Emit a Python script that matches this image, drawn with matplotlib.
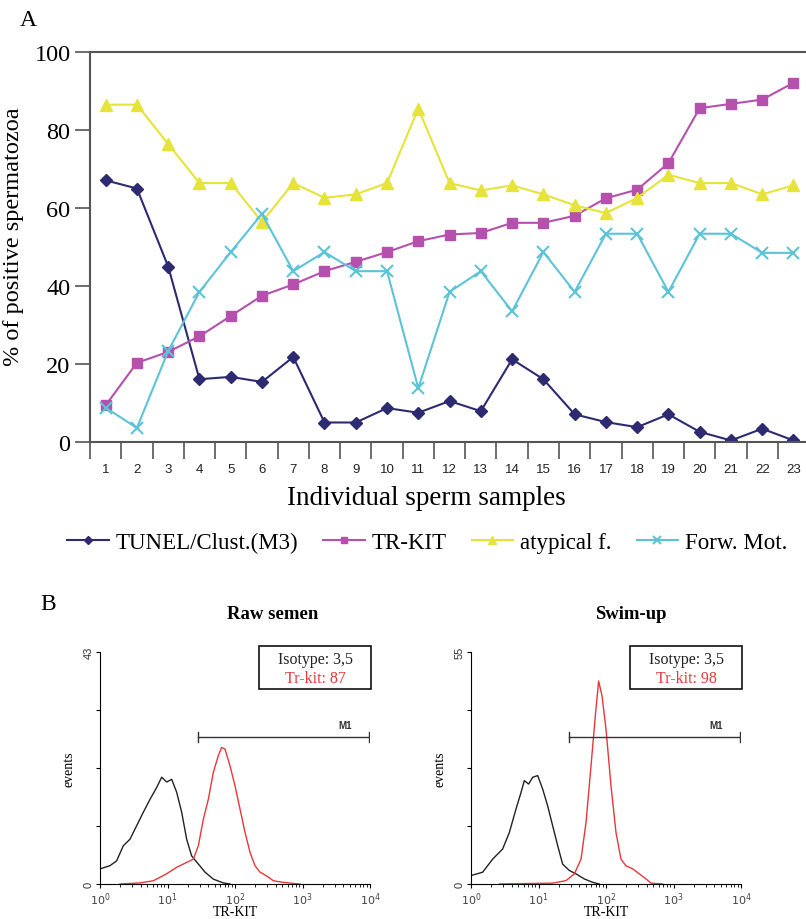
import numpy as np
import matplotlib
matplotlib.use("Agg")
import matplotlib.pyplot as plt

# panel A data
samples = list(range(1, 24))
tunel = [67.1, 65.0, 45.0, 16.1, 16.7, 15.4, 21.8, 5.0, 5.0, 8.7, 7.5, 10.5,
         7.9, 21.2, 16.1, 7.1, 5.1, 3.8, 7.1, 2.6, 0.4, 3.4, 0.4]
trkit = [9.4, 20.3, 23.1, 27.1, 32.3, 37.5, 40.4, 43.8, 46.2, 48.7, 51.5, 53.2,
         53.6, 56.2, 56.2, 58.0, 62.5, 64.7, 71.5, 85.6, 86.7, 87.8, 92.1]
atypical = [86.5, 86.5, 76.4, 66.4, 66.4, 56.4, 66.4, 62.6, 63.5, 66.4, 85.5, 66.4,
            64.5, 65.8, 63.5, 60.7, 58.7, 62.6, 68.5, 66.4, 66.4, 63.5, 65.8]
forwmot = [8.8, 3.6, 23.3, 38.5, 48.7, 58.5, 43.8, 48.7, 43.8, 43.8, 13.8, 38.5,
           43.8, 33.5, 48.7, 38.5, 53.4, 53.4, 38.5, 53.4, 53.4, 48.5, 48.5]

# panel B data (log10 fluorescence, events)
raw_iso_x = [0.0, 0.148, 0.247, 0.346, 0.444, 0.543, 0.642, 0.741, 0.840, 0.914, 0.988,
             1.062, 1.136, 1.21, 1.284, 1.358, 1.457, 1.556, 1.679, 1.827, 1.926]
raw_iso_y = [2.8, 3.4, 4.3, 7.1, 8.3, 10.8, 13.3, 15.7, 17.9, 19.8, 18.9,
             19.4, 17.0, 13.3, 8.3, 5.2, 3.7, 2.2, 0.9, 0.2, 0.0]
raw_kit_x = [0.296, 0.593, 0.79, 0.988, 1.136, 1.284, 1.383, 1.457, 1.531, 1.605, 1.679,
             1.753, 1.802, 1.852, 1.926, 2.0, 2.074, 2.148, 2.222, 2.296, 2.37,
             2.469, 2.568, 2.716, 2.864, 2.963]
raw_kit_y = [0.0, 0.2, 0.6, 1.9, 3.1, 4.0, 4.6, 7.1, 12.0, 15.7, 20.7,
             23.8, 25.3, 25.0, 21.9, 18.2, 13.9, 9.6, 5.9, 3.4, 2.2,
             1.5, 0.6, 0.3, 0.1, 0.0]
swim_iso_x = [0.0, 0.173, 0.321, 0.469, 0.568, 0.667, 0.741, 0.79, 0.854, 0.914, 0.988,
              1.062, 1.136, 1.21, 1.284, 1.358, 1.457, 1.556, 1.679, 1.802, 1.901]
swim_iso_y = [2.0, 2.8, 5.9, 8.3, 12.2, 17.8, 21.7, 24.5, 23.7, 25.3, 25.7,
              22.5, 18.5, 13.8, 9.1, 4.7, 3.2, 2.4, 1.2, 0.4, 0.0]
swim_kit_x = [0.42, 1.21, 1.407, 1.531, 1.63, 1.704, 1.778, 1.842, 1.891, 1.941, 2.0,
              2.074, 2.148, 2.222, 2.296, 2.395, 2.494, 2.593, 2.667, 2.84]
swim_kit_y = [0.0, 0.2, 0.8, 2.4, 5.9, 14.6, 28.0, 39.9, 48.1, 44.6, 36.7,
              23.3, 12.2, 5.9, 4.3, 3.6, 2.4, 1.2, 0.2, 0.0]

serif = "Liberation Serif"
W, H = 806, 920
fig = plt.figure(figsize=(W / 100, H / 100), dpi=100)

def box(l, t, r, b):
    return [l / W, (H - b) / H, (r - l) / W, (b - t) / H]

# ---------- panel A
ax = fig.add_axes(box(90, 53, 806, 443))
c_tunel, c_kit, c_aty, c_mot = "#2e2a72", "#b551ad", "#e6e33a", "#5cc4d6"
ax.plot(samples, tunel, color=c_tunel, marker="D", ms=6, lw=1.5, label="TUNEL/Clust.(M3)")
ax.plot(samples, trkit, color=c_kit, marker="s", ms=6.5, lw=1.5, label="TR-KIT")
ax.plot(samples, atypical, color=c_aty, marker="^", ms=8, lw=1.5, label="atypical f.")
ax.plot(samples, forwmot, color=c_mot, marker="x", ms=9, mew=1.5, lw=1.5, label="Forw. Mot.")
ax.set_xlim(0.5, 23.4)
ax.set_ylim(0, 100)
ax.set_yticks([0, 20, 40, 60, 80, 100])
ax.set_yticklabels(["0", "20", "40", "60", "80", "100"], fontfamily=serif, fontsize=17.5)
ax.tick_params(axis="y", length=11, width=1.2, color="#555555", pad=3)
ax.set_xticks(np.arange(0.5, 23.5, 1.0))
ax.set_xticklabels([])
ax.tick_params(axis="x", length=12, width=1.2, color="#555555")
for s in samples:
    ax.text(s, -6.8, str(s), ha="center", va="center", fontsize=9.5,
            fontfamily="Liberation Sans", color="#222222")
for sp in ["left", "bottom", "top"]:
    ax.spines[sp].set_color("#555555")
    ax.spines[sp].set_linewidth(1.5)
ax.spines["right"].set_visible(False)
ax.set_ylabel("% of positive spermatozoa", fontfamily=serif, fontsize=17.5, labelpad=6)
ax.yaxis.set_label_coords(-0.092, 0.53)
ax.text(0.47, -0.142, "Individual sperm samples", transform=ax.transAxes, ha="center",
        va="center", fontfamily=serif, fontsize=19.5)
fig.text(20 / W, 1 - 20 / H, "A", fontfamily=serif, fontsize=17, va="center")
fig.legend(loc="center", bbox_to_anchor=(0.53, 1 - 543 / H), ncol=4, frameon=False,
           prop={"family": serif, "size": 16.5}, handlelength=1.8, columnspacing=1.1,
           handletextpad=0.3, markerscale=0.7)

# ---------- panel B
fig.text(40 / W, 1 - 605 / H, "B", fontfamily=serif, fontsize=17, va="center")

def flow(l, r, title, tx, ymax, iso_x, iso_y, kit_x, kit_y, kitval):
    a = fig.add_axes(box(l, 653, r, 885))
    a.plot(10 ** np.array(iso_x), iso_y, color="#222222", lw=1.0)
    a.plot(10 ** np.array(kit_x), kit_y, color="#e8363a", lw=1.0)
    a.set_xscale("log")
    a.set_xlim(1, 1e4)
    a.set_ylim(0, ymax)
    a.set_yticks(np.linspace(0, ymax, 5))
    a.set_yticklabels(["0", "", "", "", str(ymax)], rotation=90, va="center",
                      fontfamily="Liberation Sans", fontsize=8, color="#333333")
    a.set_xticks([1, 10, 100, 1000, 10000])
    a.set_xticklabels(["$10^0$", "$10^1$", "$10^2$", "$10^3$", "$10^4$"], fontsize=8,
                      color="#444444")
    a.tick_params(axis="both", length=3, width=0.8, pad=1.5)
    a.tick_params(axis="x", which="minor", length=1.8, width=0.6)
    for sp in ["top", "right"]:
        a.spines[sp].set_visible(False)
    a.spines["left"].set_linewidth(0.8)
    a.spines["bottom"].set_linewidth(0.8)
    a.set_ylabel("events", fontfamily=serif, fontsize=10, labelpad=6)
    a.set_xlabel("TR-KIT", fontfamily=serif, fontsize=10, labelpad=-1)
    fig.text(tx / W, 1 - 615 / H, title, fontfamily=serif, fontsize=13.5, fontweight="bold",
             ha="center", va="center")
    # M1 gate
    gy = 0.634 * ymax
    a.plot([28.3, 9660], [gy, gy], color="#333333", lw=1.0)
    a.plot([28.3, 28.3], [gy - 0.02 * ymax, gy + 0.02 * ymax], color="#333333", lw=1.0)
    a.plot([9660, 9660], [gy - 0.02 * ymax, gy + 0.02 * ymax], color="#333333", lw=1.0)
    a.text(10 ** 3.63, gy + 0.03 * ymax, "M1", fontsize=7, fontweight="bold",
           fontfamily="Liberation Sans", ha="center", va="bottom", color="#333333")
    # value box
    a.add_patch(plt.Rectangle((0.59, 0.84), 0.415, 0.186, transform=a.transAxes,
                              fill=False, lw=1.2, ec="#111111", clip_on=False))
    a.text(0.797, 0.97, "Isotype: 3,5", transform=a.transAxes, ha="center", va="center",
           fontfamily=serif, fontsize=11.5, color="#222222")
    a.text(0.797, 0.89, "Tr-kit: " + kitval, transform=a.transAxes, ha="center",
           va="center", fontfamily=serif, fontsize=11.5, color="#e8363a")
    return a

flow(100, 370, "Raw semen", 273, 43, raw_iso_x, raw_iso_y, raw_kit_x, raw_kit_y, "87")
flow(471, 741, "Swim-up", 631, 55, swim_iso_x, swim_iso_y, swim_kit_x, swim_kit_y, "98")

fig.savefig("out.png", dpi=100)
